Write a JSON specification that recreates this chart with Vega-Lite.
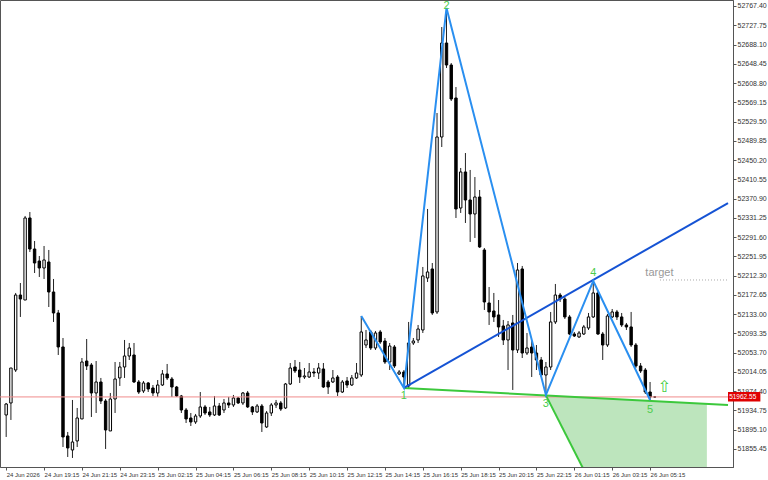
{
  "$schema": "https://vega.github.io/schema/vega-lite/v6.json",
  "width": 733,
  "height": 467,
  "autosize": {"type": "none"},
  "padding": {"left": 0, "top": 0, "right": 35, "bottom": 13},
  "background": "white",
  "config": {
    "view": {"stroke": "#555555", "strokeWidth": 1},
    "axis": {"grid": false, "domainColor": "#555555", "tickColor": "#555555", "labelColor": "#333333", "labelFont": "Liberation Sans", "labelOverlap": false, "labelFlush": false, "labelBound": false},
    "axisY": {"tickCount": 60}
  },
  "datasets": {
    "candles": [
      {"i":0,"o":51925.4,"h":51950.1,"l":51880.1,"c":51948.0},
      {"i":1,"o":51950.1,"h":52022.1,"l":51915.1,"c":52022.1},
      {"i":2,"o":52018.0,"h":52176.6,"l":52013.9,"c":52172.4},
      {"i":3,"o":52172.4,"h":52197.1,"l":52127.2,"c":52164.2},
      {"i":4,"o":52162.1,"h":52335.1,"l":52162.1,"c":52331.0},
      {"i":5,"o":52331.0,"h":52343.3,"l":52260.9,"c":52267.1},
      {"i":6,"o":52267.1,"h":52283.6,"l":52217.7,"c":52238.3},
      {"i":7,"o":52242.4,"h":52252.7,"l":52209.5,"c":52228.0},
      {"i":8,"o":52228.0,"h":52273.3,"l":52205.4,"c":52244.5},
      {"i":9,"o":52240.4,"h":52265.1,"l":52147.7,"c":52178.6},
      {"i":10,"o":52178.6,"h":52205.4,"l":52116.9,"c":52135.4},
      {"i":11,"o":52135.4,"h":52141.6,"l":52048.9,"c":52065.4},
      {"i":12,"o":52065.4,"h":52083.9,"l":51859.5,"c":51880.1},
      {"i":13,"o":51882.2,"h":51890.4,"l":51838.9,"c":51857.5},
      {"i":14,"o":51853.3,"h":51956.3,"l":51836.9,"c":51869.8},
      {"i":15,"o":51871.9,"h":51939.8,"l":51859.5,"c":51919.2},
      {"i":16,"o":51917.2,"h":52042.7,"l":51917.2,"c":52034.5},
      {"i":17,"o":52036.5,"h":52081.8,"l":52018.0,"c":52026.3},
      {"i":18,"o":52028.3,"h":52032.4,"l":51921.3,"c":51970.7},
      {"i":19,"o":51970.7,"h":52036.5,"l":51929.5,"c":51993.3},
      {"i":20,"o":51993.3,"h":52001.6,"l":51948.0,"c":51954.2},
      {"i":21,"o":51954.2,"h":51958.3,"l":51855.4,"c":51894.5},
      {"i":22,"o":51892.5,"h":51970.7,"l":51892.5,"c":51958.3},
      {"i":23,"o":51958.3,"h":52034.5,"l":51929.5,"c":51999.5},
      {"i":24,"o":52001.6,"h":52034.5,"l":51985.1,"c":52024.2},
      {"i":25,"o":52024.2,"h":52079.8,"l":52001.6,"c":52046.8},
      {"i":26,"o":52046.8,"h":52073.6,"l":52038.6,"c":52063.3},
      {"i":27,"o":52048.9,"h":52073.6,"l":51991.3,"c":51993.3},
      {"i":28,"o":51993.3,"h":51997.4,"l":51968.6,"c":51972.7},
      {"i":29,"o":51974.8,"h":51995.4,"l":51970.7,"c":51991.3},
      {"i":30,"o":51991.3,"h":51993.3,"l":51972.7,"c":51978.9},
      {"i":31,"o":51981.0,"h":51987.1,"l":51964.5,"c":51970.7},
      {"i":32,"o":51970.7,"h":51997.4,"l":51962.5,"c":51987.1},
      {"i":33,"o":51987.1,"h":52018.0,"l":51985.1,"c":52009.8},
      {"i":34,"o":52009.8,"h":52030.4,"l":51997.4,"c":52001.6},
      {"i":35,"o":51999.5,"h":52003.6,"l":51962.5,"c":51983.0},
      {"i":36,"o":51983.0,"h":51985.1,"l":51962.5,"c":51964.5},
      {"i":37,"o":51964.5,"h":51966.6,"l":51929.5,"c":51935.7},
      {"i":38,"o":51935.7,"h":51939.8,"l":51908.9,"c":51917.2},
      {"i":39,"o":51919.2,"h":51929.5,"l":51902.7,"c":51911.0},
      {"i":40,"o":51911.0,"h":51927.5,"l":51906.9,"c":51923.3},
      {"i":41,"o":51923.3,"h":51972.7,"l":51919.2,"c":51941.9},
      {"i":42,"o":51941.9,"h":51946.0,"l":51925.4,"c":51929.5},
      {"i":43,"o":51931.6,"h":51941.9,"l":51921.3,"c":51925.4},
      {"i":44,"o":51925.4,"h":51964.5,"l":51923.3,"c":51943.9},
      {"i":45,"o":51943.9,"h":51950.1,"l":51923.3,"c":51925.4},
      {"i":46,"o":51935.7,"h":51958.3,"l":51929.5,"c":51950.1},
      {"i":47,"o":51950.1,"h":51962.5,"l":51939.8,"c":51946.0},
      {"i":48,"o":51946.0,"h":51966.6,"l":51941.9,"c":51960.4},
      {"i":49,"o":51960.4,"h":51962.5,"l":51948.0,"c":51950.1},
      {"i":50,"o":51950.1,"h":51972.7,"l":51946.0,"c":51970.7},
      {"i":51,"o":51970.7,"h":51974.8,"l":51939.8,"c":51941.9},
      {"i":52,"o":51941.9,"h":51943.9,"l":51925.4,"c":51931.6},
      {"i":53,"o":51931.6,"h":51948.0,"l":51929.5,"c":51943.9},
      {"i":54,"o":51943.9,"h":51948.0,"l":51890.4,"c":51908.9},
      {"i":55,"o":51900.7,"h":51933.6,"l":51898.6,"c":51929.5},
      {"i":56,"o":51929.5,"h":51950.1,"l":51923.3,"c":51946.0},
      {"i":57,"o":51946.0,"h":51956.3,"l":51939.8,"c":51950.1},
      {"i":58,"o":51950.1,"h":51954.2,"l":51933.6,"c":51937.7},
      {"i":59,"o":51939.8,"h":51991.3,"l":51937.7,"c":51989.2},
      {"i":60,"o":51989.2,"h":52032.4,"l":51987.1,"c":52022.1},
      {"i":61,"o":52024.2,"h":52038.6,"l":52011.8,"c":52016.0},
      {"i":62,"o":52018.0,"h":52034.5,"l":51991.3,"c":52003.6},
      {"i":63,"o":52003.6,"h":52022.1,"l":51999.5,"c":52005.7},
      {"i":64,"o":52003.6,"h":52032.4,"l":52001.6,"c":52013.9},
      {"i":65,"o":52013.9,"h":52022.1,"l":52003.6,"c":52011.8},
      {"i":66,"o":52011.8,"h":52032.4,"l":51999.5,"c":52022.1},
      {"i":67,"o":52020.1,"h":52032.4,"l":51981.0,"c":51983.0},
      {"i":68,"o":51993.3,"h":51997.4,"l":51968.6,"c":51983.0},
      {"i":69,"o":51993.3,"h":52018.0,"l":51991.3,"c":52001.6},
      {"i":70,"o":52003.6,"h":52007.7,"l":51964.5,"c":51972.7},
      {"i":71,"o":51972.7,"h":51997.4,"l":51970.7,"c":51993.3},
      {"i":72,"o":51995.4,"h":52003.6,"l":51981.0,"c":51987.1},
      {"i":73,"o":51987.1,"h":52007.7,"l":51985.1,"c":52001.6},
      {"i":74,"o":52001.6,"h":52032.4,"l":51999.5,"c":52011.8},
      {"i":75,"o":52007.7,"h":52129.2,"l":52003.6,"c":52096.3},
      {"i":76,"o":52069.5,"h":52100.4,"l":52063.3,"c":52079.8},
      {"i":77,"o":52096.3,"h":52100.4,"l":52059.2,"c":52063.3},
      {"i":78,"o":52063.3,"h":52098.3,"l":52059.2,"c":52094.2},
      {"i":79,"o":52096.3,"h":52100.4,"l":52071.6,"c":52075.7},
      {"i":80,"o":52077.7,"h":52083.9,"l":52030.4,"c":52034.5},
      {"i":81,"o":52034.5,"h":52073.6,"l":52018.0,"c":52067.4},
      {"i":82,"o":52065.4,"h":52069.5,"l":52022.1,"c":52026.3},
      {"i":83,"o":52009.8,"h":52018.0,"l":52007.7,"c":52013.9},
      {"i":84,"o":52013.9,"h":52018.0,"l":51981.0,"c":52003.6},
      {"i":85,"o":51985.1,"h":52116.9,"l":51981.0,"c":52073.6},
      {"i":86,"o":52073.6,"h":52083.9,"l":52069.5,"c":52077.7},
      {"i":87,"o":52079.8,"h":52110.7,"l":52073.6,"c":52102.4},
      {"i":88,"o":52100.4,"h":52230.1,"l":52094.2,"c":52211.6},
      {"i":89,"o":52207.4,"h":52349.5,"l":52199.2,"c":52219.8},
      {"i":90,"o":52226.0,"h":52238.3,"l":52131.3,"c":52135.4},
      {"i":91,"o":52137.5,"h":52547.1,"l":52133.3,"c":52497.7},
      {"i":92,"o":52497.7,"h":52724.1,"l":52477.1,"c":52691.2},
      {"i":93,"o":52691.2,"h":52763.3,"l":52639.8,"c":52645.9},
      {"i":94,"o":52645.9,"h":52650.0,"l":52571.8,"c":52575.9},
      {"i":95,"o":52578.0,"h":52600.6,"l":52331.0,"c":52349.5},
      {"i":96,"o":52351.5,"h":52433.9,"l":52341.3,"c":52425.7},
      {"i":97,"o":52425.7,"h":52464.7,"l":52320.7,"c":52368.0},
      {"i":98,"o":52368.0,"h":52429.8,"l":52281.6,"c":52339.2},
      {"i":99,"o":52339.2,"h":52415.3,"l":52289.8,"c":52374.2},
      {"i":100,"o":52374.2,"h":52388.6,"l":52269.2,"c":52271.3},
      {"i":101,"o":52265.1,"h":52269.2,"l":52141.6,"c":52158.0},
      {"i":102,"o":52156.0,"h":52188.9,"l":52110.7,"c":52137.5},
      {"i":103,"o":52139.5,"h":52176.6,"l":52116.9,"c":52127.2},
      {"i":104,"o":52131.3,"h":52162.1,"l":52086.0,"c":52106.6},
      {"i":105,"o":52108.6,"h":52121.0,"l":52069.5,"c":52079.8},
      {"i":106,"o":52079.8,"h":52118.9,"l":52018.0,"c":52110.7},
      {"i":107,"o":52114.8,"h":52131.3,"l":51976.9,"c":52059.2},
      {"i":108,"o":52059.2,"h":52238.3,"l":52053.0,"c":52223.9},
      {"i":109,"o":52226.0,"h":52232.2,"l":52042.7,"c":52053.0},
      {"i":110,"o":52053.0,"h":52094.2,"l":52048.9,"c":52063.3},
      {"i":111,"o":52065.4,"h":52079.8,"l":52003.6,"c":52053.0},
      {"i":112,"o":52053.0,"h":52069.5,"l":52018.0,"c":52038.6},
      {"i":113,"o":52038.6,"h":52044.8,"l":52003.6,"c":52007.7},
      {"i":114,"o":52007.7,"h":52034.5,"l":51966.6,"c":52024.2},
      {"i":115,"o":52024.2,"h":52137.5,"l":52018.0,"c":52116.9},
      {"i":116,"o":52116.9,"h":52195.1,"l":52112.7,"c":52172.4},
      {"i":117,"o":52172.4,"h":52176.6,"l":52158.0,"c":52164.2},
      {"i":118,"o":52164.2,"h":52168.3,"l":52123.0,"c":52127.2},
      {"i":119,"o":52127.2,"h":52131.3,"l":52090.1,"c":52092.1},
      {"i":120,"o":52092.1,"h":52096.3,"l":52086.0,"c":52088.0},
      {"i":121,"o":52086.0,"h":52098.3,"l":52083.9,"c":52094.2},
      {"i":122,"o":52092.1,"h":52110.7,"l":52090.1,"c":52106.6},
      {"i":123,"o":52104.5,"h":52135.4,"l":52100.4,"c":52127.2},
      {"i":124,"o":52127.2,"h":52201.3,"l":52125.1,"c":52176.6},
      {"i":125,"o":52176.6,"h":52180.7,"l":52090.1,"c":52092.1},
      {"i":126,"o":52092.1,"h":52096.3,"l":52038.6,"c":52069.5},
      {"i":127,"o":52069.5,"h":52133.3,"l":52065.4,"c":52129.2},
      {"i":128,"o":52127.2,"h":52143.6,"l":52125.1,"c":52137.5},
      {"i":129,"o":52137.5,"h":52141.6,"l":52121.0,"c":52127.2},
      {"i":130,"o":52127.2,"h":52135.4,"l":52106.6,"c":52110.7},
      {"i":131,"o":52110.7,"h":52114.8,"l":52100.4,"c":52106.6},
      {"i":132,"o":52106.6,"h":52137.5,"l":52065.4,"c":52069.5},
      {"i":133,"o":52069.5,"h":52073.6,"l":52022.1,"c":52026.3},
      {"i":134,"o":52026.3,"h":52032.4,"l":52011.8,"c":52016.0},
      {"i":135,"o":52018.0,"h":52022.1,"l":51968.6,"c":51972.7},
      {"i":136,"o":51972.7,"h":51993.3,"l":51956.3,"c":51962.5},
      {"i":137,"o":51962.5,"h":51964.5,"l":51960.4,"c":51962.55}
    ],
    "zigzag": [
      {"i":75,"p":52129.2},{"i":84,"p":51981.0},{"i":93,"p":52763.3},
      {"i":114,"p":51966.6},{"i":124,"p":52201.3},{"i":136,"p":51956.3}
    ],
    "trendUp": [{"i":84,"p":51981.0},{"i":152.46,"p":52361.8}],
    "trendLow": [{"i":84,"p":51981.0},{"i":152.46,"p":51946.0}],
    "steep": [{"i":114,"p":51965.7},{"i":148,"p":51314.7}],
    "zone": [{"i":114,"top":51965.7,"bot":51965.7},{"i":148,"top":51948.3,"bot":51314.7}],
    "points": [
      {"i":84,"p":51964.5,"t":"1"},{"i":93,"p":52767.4,"t":"2"},{"i":114,"p":51948.0,"t":"3"},
      {"i":124,"p":52217.7,"t":"4"},{"i":136,"p":51935.7,"t":"5"}
    ],
    "price": [{"p":51962.55,"label":"51962.55","i":152.46,"i2":159.3,"top":51972.7,"bot":51953.2,"ti":152.7}],
    "target": [{"i":135,"i2":138.1,"i3":152.46,"p":52217.7,"lp":52203.3,"t":"target"}],
    "arrow": [{"i":139,"p":51983.0,"t":"⇧"}]
  },
  "encoding": {
    "x": {
      "field": "i", "type": "quantitative", "title": null,
      "scale": {"domain": [-0.25, 152.46], "nice": false, "zero": false},
      "axis": {
        "values": [0,8,16,24,32,40,48,56,64,72,80,88,96,104,112,120,128,136],
        "tickCount": 40,
        "labelExpr": "['24 Jun 2026','24 Jun 19:15','24 Jun 21:15','24 Jun 23:15','25 Jun 02:15','25 Jun 04:15','25 Jun 06:15','25 Jun 08:15','25 Jun 10:15','25 Jun 12:15','25 Jun 14:15','25 Jun 16:15','25 Jun 18:15','25 Jun 20:15','25 Jun 22:15','26 Jun 01:15','26 Jun 03:15','26 Jun 05:15'][round(datum.value/8)]",
        "labelAlign": "left", "labelFontSize": 6, "labelPadding": 1, "tickSize": 3,
        "labelOverlap": false, "labelFlush": false, "labelBound": false
      }
    }
  },
  "layer": [
    {
      "data": {"name": "zone"},
      "mark": {"type": "area", "color": "#bde5bd", "clip": true},
      "encoding": {
        "y": {"field": "top", "type": "quantitative", "title": null, "scale": {"domain": [51818.3, 52779.75], "nice": false, "zero": false},
          "axis": {"orient": "right", "values": [52767.40,52727.75,52688.10,52648.45,52608.80,52569.15,52529.50,52489.85,52450.20,52410.55,52370.90,52331.25,52291.60,52251.95,52212.30,52172.65,52133.00,52093.35,52053.70,52014.05,51974.40,51934.75,51895.10,51855.45],
            "tickCount": 60,
            "format": ".2f", "labelFontSize": 7, "tickSize": 3, "labelPadding": 1, "labelAlign": "left", "labelBaseline": "middle",
            "labelOverlap": false, "labelFlush": false, "labelBound": false}},
        "y2": {"field": "bot"}
      }
    },
    {
      "data": {"name": "candles"},
      "mark": {"type": "rule", "color": "#222222", "strokeWidth": 1},
      "encoding": {
        "y": {"field": "l", "type": "quantitative", "title": null, "scale": {"domain": [51818.3, 52779.75], "nice": false, "zero": false}},
        "y2": {"field": "h"}
      }
    },
    {
      "data": {"name": "candles"},
      "mark": {"type": "bar", "size": 2.4, "stroke": "#000000", "strokeWidth": 1},
      "encoding": {
        "y": {"field": "o", "type": "quantitative", "title": null, "scale": {"domain": [51818.3, 52779.75], "nice": false, "zero": false}},
        "y2": {"field": "c"},
        "fill": {"condition": {"test": "datum.c >= datum.o", "value": "#ffffff"}, "value": "#000000"}
      }
    },
    {
      "data": {"name": "price"},
      "mark": {"type": "rule", "color": "#f08c8c", "strokeWidth": 1},
      "encoding": {
        "x": null,
        "y": {"field": "p", "type": "quantitative", "title": null, "scale": {"domain": [51818.3, 52779.75], "nice": false, "zero": false}}
      }
    },
    {
      "data": {"name": "steep"},
      "mark": {"type": "line", "color": "#3cc83c", "strokeWidth": 2, "clip": true},
      "encoding": {
        "y": {"field": "p", "type": "quantitative", "title": null, "scale": {"domain": [51818.3, 52779.75], "nice": false, "zero": false}}
      }
    },
    {
      "data": {"name": "trendLow"},
      "mark": {"type": "line", "color": "#3cc83c", "strokeWidth": 2, "clip": true},
      "encoding": {
        "y": {"field": "p", "type": "quantitative", "title": null, "scale": {"domain": [51818.3, 52779.75], "nice": false, "zero": false}}
      }
    },
    {
      "data": {"name": "trendUp"},
      "mark": {"type": "line", "color": "#1553d4", "strokeWidth": 2, "clip": true},
      "encoding": {
        "y": {"field": "p", "type": "quantitative", "title": null, "scale": {"domain": [51818.3, 52779.75], "nice": false, "zero": false}}
      }
    },
    {
      "data": {"name": "zigzag"},
      "mark": {"type": "line", "color": "#2a8ff0", "strokeWidth": 2},
      "encoding": {
        "y": {"field": "p", "type": "quantitative", "title": null, "scale": {"domain": [51818.3, 52779.75], "nice": false, "zero": false}}
      }
    },
    {
      "data": {"name": "points"},
      "mark": {"type": "text", "color": "#4ccc4c", "fontSize": 11, "font": "Liberation Sans", "align": "center", "baseline": "middle"},
      "encoding": {
        "y": {"field": "p", "type": "quantitative", "title": null, "scale": {"domain": [51818.3, 52779.75], "nice": false, "zero": false}},
        "text": {"field": "t"}
      }
    },
    {
      "data": {"name": "target"},
      "mark": {"type": "text", "color": "#999999", "fontSize": 11, "font": "Liberation Sans", "align": "left", "baseline": "middle"},
      "encoding": {
        "y": {"field": "p", "type": "quantitative", "title": null, "scale": {"domain": [51818.3, 52779.75], "nice": false, "zero": false}},
        "text": {"field": "t"}
      }
    },
    {
      "data": {"name": "target"},
      "mark": {"type": "rule", "color": "#aaaaaa", "strokeWidth": 1, "strokeDash": [1, 2]},
      "encoding": {
        "x": {"field": "i2", "type": "quantitative", "title": null, "scale": {"domain": [-0.25, 152.46], "nice": false, "zero": false}},
        "x2": {"field": "i3"},
        "y": {"field": "lp", "type": "quantitative", "title": null, "scale": {"domain": [51818.3, 52779.75], "nice": false, "zero": false}}
      }
    },
    {
      "data": {"name": "arrow"},
      "mark": {"type": "text", "color": "#44cc44", "fontSize": 16, "font": "DejaVu Sans", "align": "center", "baseline": "middle"},
      "encoding": {
        "y": {"field": "p", "type": "quantitative", "title": null, "scale": {"domain": [51818.3, 52779.75], "nice": false, "zero": false}},
        "text": {"field": "t"}
      }
    },
    {
      "data": {"name": "price"},
      "mark": {"type": "rect", "color": "#e00000"},
      "encoding": {
        "x": {"field": "i", "type": "quantitative", "title": null, "scale": {"domain": [-0.25, 152.46], "nice": false, "zero": false}},
        "x2": {"field": "i2"},
        "y": {"field": "top", "type": "quantitative", "title": null, "scale": {"domain": [51818.3, 52779.75], "nice": false, "zero": false}},
        "y2": {"field": "bot"}
      }
    },
    {
      "data": {"name": "price"},
      "mark": {"type": "text", "color": "#ffffff", "fontSize": 6.5, "font": "Liberation Sans", "align": "left", "baseline": "middle"},
      "encoding": {
        "x": {"field": "ti", "type": "quantitative", "title": null, "scale": {"domain": [-0.25, 152.46], "nice": false, "zero": false}},
        "y": {"field": "p", "type": "quantitative", "title": null, "scale": {"domain": [51818.3, 52779.75], "nice": false, "zero": false}},
        "text": {"field": "label"}
      }
    }
  ]
}
